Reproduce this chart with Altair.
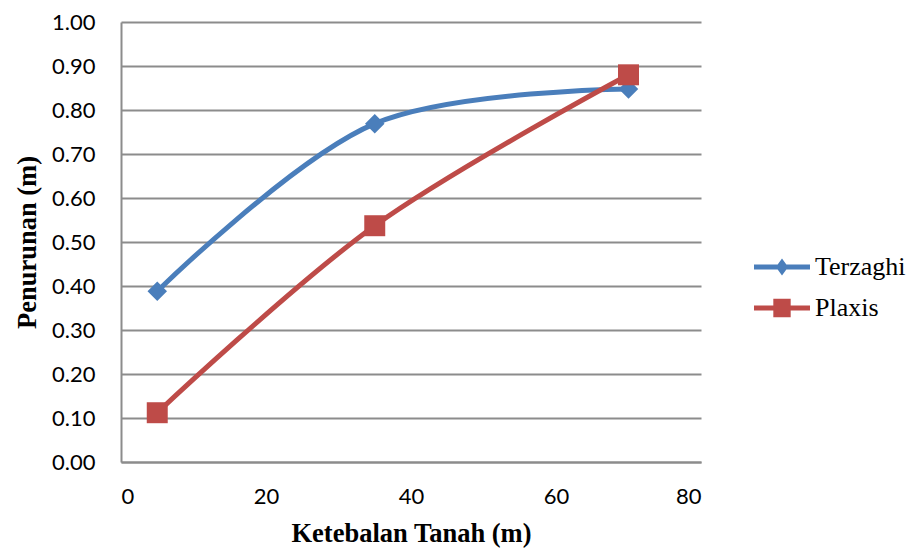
import altair as alt
import pandas as pd

thickness = [5, 35, 70]
terzaghi = [0.388, 0.769, 0.848]
plaxis = [0.112, 0.537, 0.880]
series_names = ["Terzaghi", "Plaxis"]
series_colors = ["#4a7ebb", "#be4b48"]
series_shapes = ["diamond", "square"]
series_sizes = [380, 440]
x_ticks = [0, 20, 40, 60, 80]
y_ticks = [0.0, 0.1, 0.2, 0.3, 0.4, 0.5, 0.6, 0.7, 0.8, 0.9, 1.0]

rows = []
for name, vals in zip(series_names, [terzaghi, plaxis]):
    for x, y in zip(thickness, vals):
        rows.append({"Ketebalan": x, "Penurunan": y, "Metode": name})
df = pd.DataFrame(rows)

serif = "'Liberation Serif', 'Times New Roman', serif"

x_enc = alt.X(
    "Ketebalan:Q",
    scale=alt.Scale(domain=[0, 80], nice=False),
    axis=alt.Axis(
        title="Ketebalan Tanah (m)", values=x_ticks, grid=False, ticks=False,
        labelPadding=24, titlePadding=13, format="d",
    ),
)
y_enc = alt.Y(
    "Penurunan:Q",
    scale=alt.Scale(domain=[0, 1], nice=False),
    axis=alt.Axis(
        title="Penurunan (m)", values=y_ticks, grid=True, ticks=False,
        format=".2f", labelPadding=26, titlePadding=10,
    ),
)
color_scale = alt.Scale(domain=series_names, range=series_colors)

diamond_legend = ("M-1,-0.09 L1,-0.09 L1,0.09 L-1,0.09 Z "
                  "M0,-0.3 L0.22,0 L0,0.3 L-0.22,0 Z")
square_legend = ("M-1,-0.09 L1,-0.09 L1,0.09 L-1,0.09 Z "
                 "M-0.31,-0.33 L0.31,-0.33 L0.31,0.33 L-0.31,0.33 Z")

lines = alt.Chart(df).mark_line(interpolate="catmull-rom", strokeWidth=5).encode(
    x=x_enc,
    y=y_enc,
    color=alt.Color(
        "Metode:N",
        scale=color_scale,
        legend=alt.Legend(
            title=None,
            orient="none",
            legendX=633,
            legendY=217,
            symbolSize=3136,
            rowPadding=-10,
            labelFont=serif,
            labelFontSize=26,
            labelColor="#000000",
            labelOffset=5,
            labelLimit=300,
            symbolType=alt.ExprRef(expr=f"datum.value === 'Terzaghi' ? '{diamond_legend}' : '{square_legend}'"),
            symbolFillColor=alt.ExprRef(expr=f"datum.value === 'Terzaghi' ? '{series_colors[0]}' : '{series_colors[1]}'"),
            symbolStrokeWidth=0,
            symbolOpacity=1,
        ),
    ),
)

point_layers = []
for name, col, shp, sz in zip(series_names, series_colors, series_shapes, series_sizes):
    point_layers.append(
        alt.Chart(df)
        .transform_filter(alt.datum.Metode == name)
        .mark_point(filled=True, opacity=1, color=col, shape=shp, size=sz)
        .encode(x=x_enc, y=y_enc)
    )

chart = (
    alt.layer(lines, *point_layers)
    .properties(
        width=580,
        height=440,
        background="white",
        autosize=alt.AutoSizeParams(type="none"),
        padding={"left": 121, "top": 22, "right": 210, "bottom": 87},
    )
    .configure_view(stroke=None)
    .configure_axis(
        labelFont="Lato",
        labelFontSize=22,
        labelColor="#000000",
        titleFont="Liberation Serif",
        titleFontSize=26.5,
        titleFontWeight="bold",
        titleColor="#000000",
        domainColor="#8c8c8c",
        domainWidth=2,
        gridColor="#8c8c8c",
        gridWidth=2,
    )
    .configure_legend(
        labelFont=serif,
        labelFontSize=26,
        labelColor="#000000",
    )
)

chart.save("out.html", embed_options={"renderer": "svg", "actions": False})
